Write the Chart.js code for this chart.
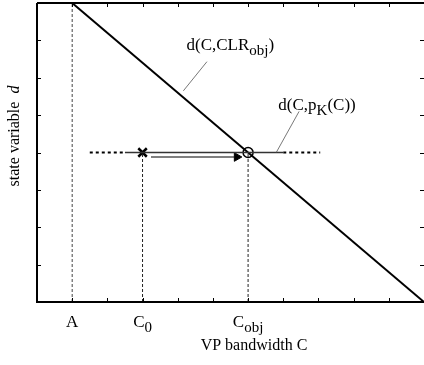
<!DOCTYPE html>
<html>
<head>
<meta charset="utf-8">
<script src="https://cdn.jsdelivr.net/npm/chart.js@4/dist/chart.umd.min.js"></script>
<style>
  html, body { margin: 0; padding: 0; background: #fff; overflow: hidden; }
  #wrap { width: 424px; height: 365px; }
</style>
</head>
<body>
<div id="wrap"><canvas id="diagram"></canvas></div>
<script>
// axis ranges and tick marks
const xRange = [0, 11];
const yRange = [0, 8];
const xTicks = [1, 2, 3, 4, 5, 6, 7, 8, 9, 10, 11];
const yTicks = [1, 2, 3, 4, 5, 6, 7];

// named bandwidth values on the C axis
const tickValues = [1, 3, 6];
const tickLabels = [[['A']], [['C'], ['0', 'sub']], [['C'], ['obj', 'sub']]];

// d(C, CLR_obj): decreasing line
const clrC = [1, 11];
const clrD = [8, 0];

// d(C, p_K(C)) level and the operating points
const targetD = 4;
const levelDottedLeft = [1.5, 2.5];
const levelSolid = [2.5, 7.0];
const levelDottedRight = [7.0, 8.05];
const startC = 3;   // C0
const objC = 6;     // Cobj
const aC = 1;       // A

// arrow from C0 towards Cobj
const arrowC = [3.24, 5.6];
const arrowD = 3.88;

// curve labels and their leader lines
const curveLabels = [
  { parts: [['d(C,CLR'], ['obj', 'sub'], [')']], x: 4.25, y: 6.75, leader: [[4.16, 5.65], [4.83, 6.43]] },
  { parts: [['d(C,p'], ['K', 'sub'], ['(C))']], x: 6.86, y: 5.15, leader: [[6.8, 4.0], [7.45, 5.1]] }
];

const FONT = '"Liberation Serif", "Times New Roman", serif';

function seg(xs, ys) {
  return xs.map((x, i) => ({ x: x, y: Array.isArray(ys) ? ys[i] : ys }));
}

function drawRich(ctx, parts, x, y, align) {
  const big = '17px ' + FONT;
  const small = '15px ' + FONT;
  let total = 0;
  parts.forEach(p => {
    ctx.font = p[1] === 'sub' ? small : big;
    total += ctx.measureText(p[0]).width;
  });
  let cx = align === 'center' ? x - total / 2 : x;
  ctx.textAlign = 'left';
  ctx.textBaseline = 'alphabetic';
  parts.forEach(p => {
    const sub = p[1] === 'sub';
    ctx.font = sub ? small : big;
    ctx.fillText(p[0], cx, sub ? y + 5 : y);
    cx += ctx.measureText(p[0]).width;
  });
}

const framePlugin = {
  id: 'frame',
  afterDatasetsDraw(chart) {
    const ctx = chart.ctx;
    const a = chart.chartArea;
    const xs = chart.scales.x;
    const ys = chart.scales.y;
    ctx.save();
    ctx.strokeStyle = '#000';
    ctx.lineWidth = 2;
    ctx.beginPath();
    ctx.moveTo(a.left, a.top);
    ctx.lineTo(a.right + 2, a.top);
    ctx.moveTo(a.left, a.top);
    ctx.lineTo(a.left, a.bottom);
    ctx.lineTo(a.right + 2, a.bottom);
    ctx.stroke();

    // inward ticks on all four sides
    ctx.lineWidth = 1;
    ctx.beginPath();
    xTicks.forEach(v => {
      const px = Math.round(xs.getPixelForValue(v)) + 0.5;
      ctx.moveTo(px, a.bottom);
      ctx.lineTo(px, a.bottom - 4);
      ctx.moveTo(px, a.top);
      ctx.lineTo(px, a.top + 4);
    });
    yTicks.forEach(v => {
      const py = Math.round(ys.getPixelForValue(v)) + 0.5;
      ctx.moveTo(a.left, py);
      ctx.lineTo(a.left + 4, py);
      ctx.moveTo(a.right, py);
      ctx.lineTo(a.right - 4, py);
    });
    ctx.stroke();

    // curve labels with leader lines
    ctx.fillStyle = '#000';
    curveLabels.forEach(l => {
      ctx.strokeStyle = '#555';
      ctx.lineWidth = 0.8;
      ctx.beginPath();
      ctx.moveTo(xs.getPixelForValue(l.leader[0][0]), ys.getPixelForValue(l.leader[0][1]));
      ctx.lineTo(xs.getPixelForValue(l.leader[1][0]), ys.getPixelForValue(l.leader[1][1]));
      ctx.stroke();
      drawRich(ctx, l.parts, xs.getPixelForValue(l.x), ys.getPixelForValue(l.y), 'left');
    });

    // named ticks under the C axis
    tickValues.forEach((v, i) => {
      drawRich(ctx, tickLabels[i], xs.getPixelForValue(v), a.bottom + 25, 'center');
    });

    // axis titles
    ctx.font = '16px ' + FONT;
    ctx.textAlign = 'center';
    ctx.fillText('VP bandwidth C', 254, 350);
    ctx.translate(19, 136);
    ctx.rotate(-Math.PI / 2);
    ctx.font = '16px ' + FONT;
    const w1 = ctx.measureText('state variable  ').width;
    ctx.font = 'italic 16px ' + FONT;
    const w2 = ctx.measureText('d').width;
    ctx.textAlign = 'left';
    ctx.font = '16px ' + FONT;
    ctx.fillText('state variable  ', -(w1 + w2) / 2, 0);
    ctx.font = 'italic 16px ' + FONT;
    ctx.fillText('d', -(w1 + w2) / 2 + w1, 0);
    ctx.restore();
  }
};

const lineDefaults = { showLine: true, pointRadius: 0, fill: false, borderColor: '#000', tension: 0 };

new Chart(document.getElementById('diagram'), {
  type: 'scatter',
  data: {
    datasets: [
      // guides for A, C0 and Cobj
      Object.assign({}, lineDefaults, { data: seg([aC, aC], [yRange[0], yRange[1]]), borderWidth: 1, borderColor: '#444', borderDash: [3, 2] }),
      Object.assign({}, lineDefaults, { data: seg([startC, startC], [yRange[0], targetD]), borderWidth: 1, borderColor: '#222', borderDash: [3, 2] }),
      Object.assign({}, lineDefaults, { data: seg([objC, objC], [yRange[0], targetD]), borderWidth: 1, borderColor: '#222', borderDash: [3, 2] }),
      // target level
      Object.assign({}, lineDefaults, { data: seg(levelDottedLeft, targetD), borderWidth: 2, borderDash: [3, 3] }),
      Object.assign({}, lineDefaults, { data: seg(levelSolid, targetD), borderWidth: 1.5, borderColor: '#333' }),
      Object.assign({}, lineDefaults, { data: seg(levelDottedRight, targetD), borderWidth: 2, borderDash: [3, 3] }),
      // arrow C0 -> Cobj
      Object.assign({}, lineDefaults, { data: seg(arrowC, arrowD), borderWidth: 1.2 }),
      { data: [{ x: arrowC[1] + 0.08, y: arrowD }], pointStyle: 'triangle', rotation: 90, pointRadius: 5, backgroundColor: '#000', borderColor: '#000', borderWidth: 1 },
      // d(C, CLR_obj)
      Object.assign({}, lineDefaults, { data: seg(clrC, clrD), borderWidth: 2 }),
      // starting point and equilibrium
      { data: [{ x: startC, y: targetD }], pointStyle: 'crossRot', pointRadius: 6, borderColor: '#000', borderWidth: 2.5 },
      { data: [{ x: objC, y: targetD }], pointStyle: 'circle', pointRadius: 5, backgroundColor: 'rgba(0,0,0,0)', borderColor: '#000', borderWidth: 1.5 }
    ]
  },
  options: {
    responsive: true,
    maintainAspectRatio: false,
    animation: false,
    events: [],
    layout: { autoPadding: false, padding: { left: 37, top: 3, right: 0, bottom: 63 } },
    plugins: { legend: { display: false }, tooltip: { enabled: false } },
    scales: {
      x: { type: 'linear', min: xRange[0], max: xRange[1], display: false },
      y: { type: 'linear', min: yRange[0], max: yRange[1], display: false }
    }
  },
  plugins: [framePlugin]
});
</script>
</body>
</html>
